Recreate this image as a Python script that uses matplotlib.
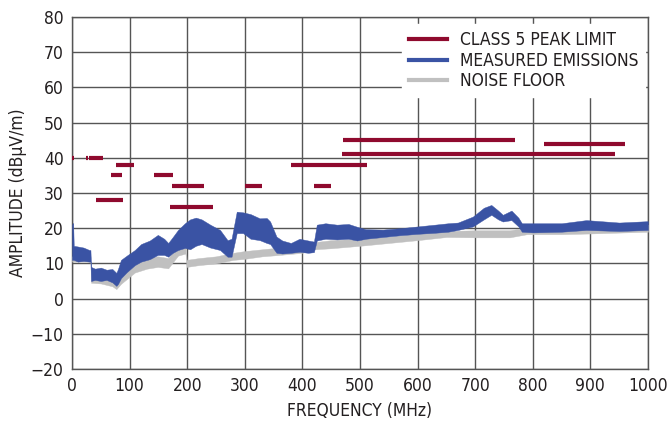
import matplotlib
matplotlib.use('Agg')
import matplotlib.pyplot as plt

plt.rcParams['font.family'] = ['DejaVu Sans']
plt.rcParams['font.stretch'] = 'condensed'

# класс 5: пиковые пределы (начало, конец, уровень)
lim_start = [0, 25, 30, 76, 68, 142, 174, 41, 171, 300, 420, 380, 468, 470, 820]
lim_end = [4, 27, 53, 108, 87, 175, 229, 88, 244, 330, 450, 512, 943, 769, 960]
lim_level = [40, 40, 40, 38, 35, 35, 32, 28, 26, 32, 32, 38, 41, 45, 44]

# измеренные излучения: огибающая
emi_freq = [0, 2, 3, 10, 20, 30, 32, 33, 40, 50, 60, 70, 77, 80, 85, 95, 109, 120,
            135, 149, 160, 167, 175, 184, 196, 205, 215, 225, 240, 257, 270, 277,
            286, 297, 310, 326, 338, 344, 355, 365, 380, 395, 410, 420, 425, 440,
            460, 480, 495, 510, 540, 570, 600, 630, 653, 670, 696, 715, 728, 740,
            748, 763, 775, 781, 800, 850, 893, 950, 1000]
emi_lo = [11, 11, 11, 10.5, 10.7, 10.5, 10.5, 5, 5.3, 5.0, 5.3, 4.6, 3.6, 4.2, 5.8,
          7.5, 9.5, 10.5, 11.2, 12.4, 12.4, 11.9, 13, 13.8, 14.4, 14, 15, 15.5,
          14.5, 13.8, 11.9, 11.9, 18.6, 18.6, 17, 16.6, 15.8, 15.5, 13, 12.8, 13,
          13.3, 13, 13.2, 16.5, 17, 16.8, 17, 16.5, 17, 17.5, 18.0, 18.4, 18.7, 19,
          19.5, 20.5, 22.5, 23.8, 22.5, 21.9, 22.3, 20.5, 19.0, 18.8, 19.0, 19.5,
          19.2, 19.5]
emi_hi = [21, 21.5, 15, 14.8, 14.5, 13.8, 13.8, 9, 8.5, 8.8, 8.2, 8.4, 7.3, 8.5, 11,
          12.2, 13.8, 15.5, 16.5, 18.1, 17, 15.8, 17.5, 19.5, 21.4, 22.5, 23, 22.5,
          21, 19.5, 16.6, 17, 24.7, 24.5, 24, 22.8, 22.9, 21.9, 17.6, 16.5, 15.8,
          17, 16.5, 16.2, 21, 21.4, 21.0, 21.2, 20.4, 19.7, 19.6, 20, 20.5, 21,
          21.4, 21.6, 23.3, 25.8, 26.6, 25, 23.8, 25.0, 23, 21.4, 21.4, 21.4, 22.3,
          21.6, 22]

# шумовой фон
nf_freq = [0, 32, 33, 50, 70, 77, 85, 109, 130, 149, 167, 184, 197, 199, 220, 250,
           280, 300, 330, 360, 400, 420, 450, 500, 550, 600, 650, 700, 760, 790,
           850, 900, 1000]
nf_lo = [10.5, 10.5, 4.5, 4.3, 3.5, 2.7, 4.2, 7.4, 8.5, 9.0, 8.6, 12.2, 12.8, 9.0,
         9.5, 10, 11, 11.3, 12, 12.4, 13, 14, 14.3, 15, 15.8, 16.6, 17.5, 17.4,
         17.4, 18.3, 18.3, 18.5, 19]
nf_hi = [12, 12, 7, 6.5, 6, 5, 7, 10, 11.5, 12, 11.5, 15, 16, 11, 11.5, 12, 13,
         13.5, 14, 14.5, 15, 16, 16.6, 17, 17.6, 18.5, 19.2, 19.4, 19.4, 20.2,
         20.5, 20.6, 21]

red = '#8f0a2e'
blue = '#3a53a4'
grey = '#c0c0c0'
txt = '#231f20'

fig = plt.figure(figsize=(6.68, 4.23), dpi=100)
ax = fig.add_axes([0.1078, 0.1277, 0.8622, 0.8321])

ax.fill_between(nf_freq, nf_lo, nf_hi, color=grey, lw=0.3, edgecolor=grey, zorder=3)
ax.fill_between(emi_freq, emi_lo, emi_hi, color=blue, lw=0.3, edgecolor=blue, zorder=4)
ax.hlines(lim_level, lim_start, lim_end, colors=red, lw=3, zorder=5)

ax.plot([], [], color=red, lw=3, label='CLASS 5 PEAK LIMIT')
ax.plot([], [], color=blue, lw=3, label='MEASURED EMISSIONS')
ax.plot([], [], color=grey, lw=3, label='NOISE FLOOR')

ax.set_xlim(0, 1000)
ax.set_ylim(-20, 80)
ax.set_xticks(range(0, 1001, 100))
ax.set_yticks(range(-20, 81, 10))
ax.grid(True, color='#555555', lw=1)
ax.set_axisbelow(True)
ax.tick_params(length=0, labelsize=12.5, colors=txt, pad=6)
for s in ax.spines.values():
    s.set_color('#555555')
    s.set_linewidth(1)

ax.set_xlabel('FREQUENCY (MHz)', fontsize=12.5, color=txt, labelpad=5)
ax.set_ylabel('AMPLITUDE (dBµV/m)', fontsize=12.5, color=txt, labelpad=3)

leg = ax.legend(loc='upper right', bbox_to_anchor=(0.995, 0.98), fontsize=12.5,
                frameon=True, facecolor='white', edgecolor='white', framealpha=1,
                fancybox=False, handlelength=2.2, labelspacing=0.15,
                borderaxespad=0, handletextpad=0.7)
for t in leg.get_texts():
    t.set_color(txt)

fig.savefig('out.png', dpi=100)
